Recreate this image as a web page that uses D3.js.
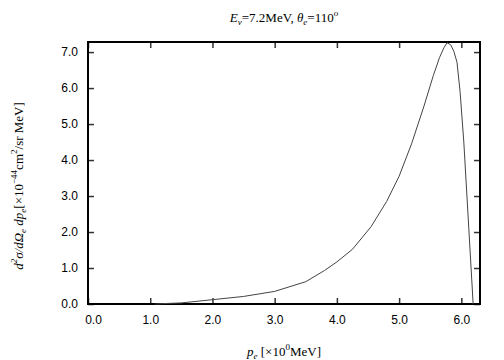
<!DOCTYPE html>
<html>
<head>
<meta charset="utf-8">
<script src="https://cdn.jsdelivr.net/npm/d3@7"></script>
<style>
  body { margin: 0; background: #fff; }
  svg text { fill: #000; }
</style>
</head>
<body>
<div id="chart"></div>
<script>
// momentum p_e [MeV] and cross section values
const momentum = [1.08, 1.2, 1.5, 2.0, 2.5, 3.0, 3.5, 3.8, 4.0, 4.25, 4.55, 4.8, 5.0, 5.2, 5.4, 5.55, 5.65, 5.72, 5.77, 5.83, 5.88, 5.93, 5.98, 6.04, 6.12, 6.19];
const crossSection = [0.0, 0.01, 0.03, 0.12, 0.21, 0.35, 0.62, 0.93, 1.17, 1.52, 2.15, 2.85, 3.55, 4.45, 5.5, 6.35, 6.85, 7.12, 7.26, 7.2, 7.02, 6.72, 5.9, 4.5, 2.1, 0.0];
const xTicks = [0, 1, 2, 3, 4, 5, 6];
const yTicks = [0, 1, 2, 3, 4, 5, 6, 7];

const width = 504, height = 360;
const margin = { top: 42, left: 88, bottom: 56, right: 24 };
const iwidth = width - margin.left - margin.right;
const iheight = height - margin.top - margin.bottom;

const svg = d3.select("#chart").append("svg")
  .attr("width", width)
  .attr("height", height);

const g = svg.append("g")
  .attr("transform", `translate(${margin.left},${margin.top})`);

const x = d3.scaleLinear().domain([0, 6.3]).range([0, iwidth]);
const y = d3.scaleLinear().domain([0, 7.28]).range([iheight, 0]);

const tickFont = "'Liberation Sans', Arial, sans-serif";
const serif = "'Liberation Serif', 'Times New Roman', serif";

// axes: ticks pointing inward, mirrored on top and right
const xAxis = g.append("g")
  .attr("transform", `translate(0,${iheight})`)
  .call(d3.axisBottom(x).tickValues(xTicks).tickSizeInner(-6).tickSizeOuter(0).tickPadding(11).tickFormat(d3.format(".1f")));
const yAxis = g.append("g")
  .call(d3.axisLeft(y).tickValues(yTicks).tickSizeInner(-6).tickSizeOuter(0).tickPadding(10).tickFormat(d3.format(".1f")));
const xTop = g.append("g")
  .call(d3.axisTop(x).tickValues(xTicks).tickSizeInner(-6).tickSizeOuter(0).tickFormat(""));
const yRight = g.append("g")
  .attr("transform", `translate(${iwidth},0)`)
  .call(d3.axisRight(y).tickValues(yTicks).tickSizeInner(-6).tickSizeOuter(0).tickFormat(""));

[xAxis, yAxis, xTop, yRight].forEach(a => {
  a.select(".domain").remove();
  a.selectAll(".tick line").attr("stroke", "#333").attr("stroke-width", 1.5);
  a.selectAll("text").attr("font-family", tickFont).attr("font-size", 12).attr("fill", "#111");
});
// first x label sits a little right of its tick, as in the original
xAxis.selectAll(".tick text").filter(d => d === 0).attr("dx", 5);

g.append("rect")
  .attr("width", iwidth)
  .attr("height", iheight)
  .attr("fill", "none")
  .attr("stroke", "#000")
  .attr("stroke-width", 2);

const line = d3.line()
  .x((d, i) => x(momentum[i]))
  .y(d => y(d));

g.append("path")
  .datum(crossSection)
  .attr("d", line)
  .attr("fill", "none")
  .attr("stroke", "#444")
  .attr("stroke-width", 1);

// title
const title = svg.append("text")
  .attr("x", margin.left + iwidth / 2)
  .attr("y", 22)
  .attr("text-anchor", "middle")
  .attr("font-family", serif)
  .attr("font-size", 13);
title.append("tspan").attr("font-style", "italic").text("E");
title.append("tspan").attr("font-style", "italic").attr("font-size", 9).attr("dy", 3).text("ν");
title.append("tspan").attr("dy", -3).text("=7.2MeV, ");
title.append("tspan").attr("font-style", "italic").text("θ");
title.append("tspan").attr("font-style", "italic").attr("font-size", 9).attr("dy", 3).text("e");
title.append("tspan").attr("dy", -3).text("=110");
title.append("tspan").attr("font-style", "italic").attr("font-size", 9).attr("dy", -6).text("o");

// x label
const xl = svg.append("text")
  .attr("x", margin.left + iwidth / 2)
  .attr("y", 356)
  .attr("text-anchor", "middle")
  .attr("font-family", serif)
  .attr("font-size", 13);
xl.append("tspan").attr("font-style", "italic").text("p");
xl.append("tspan").attr("font-style", "italic").attr("font-size", 9).attr("dy", 3).text("e");
xl.append("tspan").attr("dy", -3).text(" [×10");
xl.append("tspan").attr("font-size", 9).attr("dy", -6).text("0");
xl.append("tspan").attr("dy", 6).text("MeV]");

// y label
const yl = svg.append("text")
  .attr("transform", "translate(23,186) rotate(-90)")
  .attr("text-anchor", "middle")
  .attr("font-family", serif)
  .attr("font-size", 13);
yl.append("tspan").attr("font-style", "italic").text("d");
yl.append("tspan").attr("font-style", "italic").attr("font-size", 9).attr("dy", -6).text("2");
yl.append("tspan").attr("font-style", "italic").attr("dy", 6).text("σ/dΩ");
yl.append("tspan").attr("font-style", "italic").attr("font-size", 9).attr("dy", 3).text("e");
yl.append("tspan").attr("font-style", "italic").attr("dy", -3).text(" dp");
yl.append("tspan").attr("font-style", "italic").attr("font-size", 9).attr("dy", 3).text("e");
yl.append("tspan").attr("dy", -3).text("[×10");
yl.append("tspan").attr("font-size", 9).attr("dy", -6).text("−44");
yl.append("tspan").attr("dy", 6).text("cm");
yl.append("tspan").attr("font-size", 9).attr("dy", -6).text("2");
yl.append("tspan").attr("dy", 6).text("/sr MeV]");
</script>
</body>
</html>
